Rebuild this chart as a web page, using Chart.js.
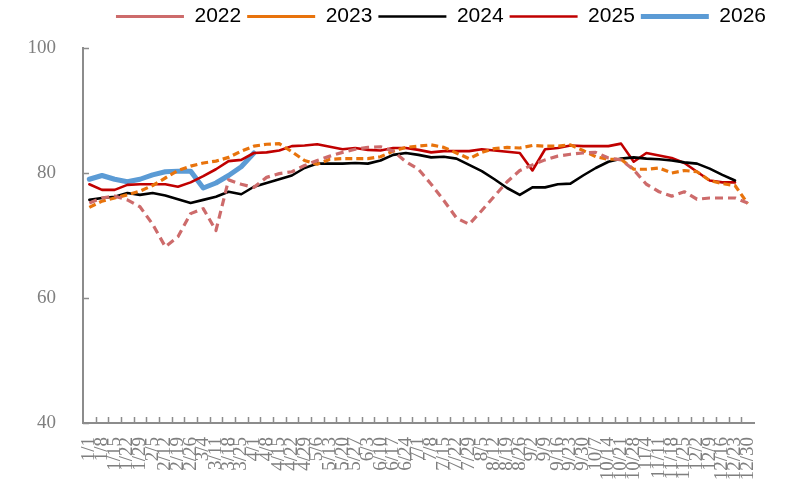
<!DOCTYPE html>
<html>
<head>
<meta charset="utf-8">
<script src="https://cdn.jsdelivr.net/npm/chart.js@4.4.1/dist/chart.umd.min.js"></script>
<style>
  html, body { margin: 0; padding: 0; background: #ffffff; }
  #wrap { width: 797px; height: 486px; }
</style>
</head>
<body>
<div id="wrap"><canvas id="c" width="797" height="486"></canvas></div>
<script>
// Weekly index by year, week labels running 1/1 .. 12/30
const weeks = ['1/1','1/8','1/15','1/22','1/29','2/5','2/12','2/19','2/26','3/4','3/11','3/18','3/25',
  '4/1','4/8','4/15','4/22','4/29','5/6','5/13','5/20','5/27','6/3','6/10','6/17','6/24',
  '7/1','7/8','7/15','7/22','7/29','8/5','8/12','8/19','8/26','9/2','9/9','9/16','9/23','9/30',
  '10/7','10/14','10/21','10/28','11/4','11/11','11/18','11/25','12/2','12/9','12/16','12/23','12/30'];

const y2022 = [75.2,76.0,76.3,75.7,74.6,71.8,68.2,69.8,73.5,74.3,70.8,78.9,78.2,77.7,79.3,79.9,80.2,81.2,82.0,82.7,
  83.3,83.8,84.1,84.2,83.5,81.8,80.6,78.2,75.6,72.8,71.8,74.0,76.3,78.6,80.4,81.3,82.1,82.7,83.0,83.2,
  83.3,82.4,82.1,80.5,78.2,77.0,76.3,77.0,75.8,76.0,76.0,76.0,75.2];
const y2023 = [74.5,75.5,76.0,76.5,77.1,78.0,79.2,80.4,81.1,81.6,81.9,82.5,83.5,84.3,84.6,84.7,83.4,82.0,81.4,82.2,
  82.3,82.3,82.3,82.6,83.5,84.1,84.3,84.5,84.1,83.2,82.3,83.3,83.9,84.1,84.0,84.4,84.3,84.3,84.5,83.6,
  82.6,82.2,82.2,80.6,80.6,80.8,80.0,80.4,80.2,78.8,78.3,78.0,75.1];
const y2024 = [75.7,76.0,76.2,76.8,76.5,76.8,76.4,75.8,75.2,75.7,76.2,77.0,76.6,77.8,78.4,79.0,79.6,80.8,81.5,81.5,
  81.5,81.6,81.5,82.0,82.9,83.2,82.9,82.5,82.6,82.3,81.3,80.3,79.0,77.6,76.5,77.7,77.7,78.2,78.3,79.6,
  80.8,81.8,82.3,82.5,82.3,82.2,82.0,81.7,81.5,80.7,79.7,78.8];
const y2025 = [78.2,77.3,77.3,78.1,78.2,78.2,78.2,77.8,78.5,79.5,80.6,81.9,82.1,83.2,83.3,83.6,84.3,84.4,84.6,84.2,
  83.8,84.0,83.7,83.6,84.0,84.0,83.7,83.3,83.5,83.5,83.5,83.8,83.6,83.4,83.2,80.4,83.8,84.0,84.4,84.3,
  84.3,84.3,84.7,81.8,83.2,82.8,82.4,81.6,80.2,78.8,78.5,78.5];
const y2026 = [79.0,79.6,79.0,78.6,79.0,79.7,80.2,80.3,80.3,77.6,78.4,79.6,81.0,83.2];

const yTicks = [40, 60, 80, 100];

const AXIS_GREY = '#8c8c8c';
const LABEL_GREY = '#7f7f7f';

// Short tick marks pointing into the plot area
const innerTicks = {
  id: 'innerTicks',
  afterDatasetsDraw(chart) {
    const { ctx, scales: { x, y } } = chart;
    ctx.save();
    ctx.strokeStyle = AXIS_GREY;
    ctx.lineWidth = 1.5;
    ctx.beginPath();
    y.ticks.forEach((t, i) => {
      const py = Math.round(y.getPixelForTick(i)) + 0.5;
      ctx.moveTo(x.left, py);
      ctx.lineTo(x.left + 6, py);
    });
    for (let i = 1; i < x.ticks.length; i++) {
      const px = Math.round((x.getPixelForTick(i - 1) + x.getPixelForTick(i)) / 2) + 0.5;
      ctx.moveTo(px, y.bottom);
      ctx.lineTo(px, y.bottom - 6);
    }
    ctx.stroke();
    ctx.restore();
  }
};

// Fixed legend band height and horizontal placement
const legendBand = {
  id: 'legendBand',
  beforeLayout(chart) {
    const lg = chart.legend;
    if (lg && !lg._bandPatched) {
      const fit = lg.fit;
      lg.fit = function () { fit.call(this); this.height = 48; };
      lg._bandPatched = true;
    }
  },
  afterLayout(chart) {
    chart.legend.left = 85;
    chart.legend.right = 797;
  }
};

const line = (label, data, color, width, dash) => ({
  label, data,
  borderColor: color,
  backgroundColor: color,
  borderWidth: width,
  borderDash: dash,
  borderCapStyle: dash.length ? 'butt' : 'round',
  borderJoinStyle: 'round',
  pointRadius: 0,
  pointHoverRadius: 0,
  tension: 0,
  fill: false
});

new Chart(document.getElementById('c'), {
  type: 'line',
  data: {
    labels: weeks,
    datasets: [
      line('2022', y2022, '#cd6b6b', 3.2, [8, 5]),
      line('2023', y2023, '#e8730c', 3.2, [7, 4]),
      line('2024', y2024, '#000000', 2.6, []),
      line('2025', y2025, '#c00000', 2.6, []),
      line('2026', y2026, '#5b9bd5', 5, [])
    ]
  },
  options: {
    responsive: false,
    animation: false,
    devicePixelRatio: 1,
    layout: { padding: { left: 0, right: 43, top: 0, bottom: 0 } },
    plugins: {
      tooltip: { enabled: false },
      legend: {
        position: 'top',
        align: 'center',
        labels: {
          usePointStyle: true,
          pointStyle: 'line',
          pointStyleWidth: 68,
          padding: 6,
          color: '#000000',
          font: { family: "'Liberation Sans', Arial, sans-serif", size: 21 }
        }
      }
    },
    scales: {
      x: {
        type: 'category',
        offset: true,
        grid: { display: false, offset: true },
        border: { display: true, color: AXIS_GREY, width: 2 },
        afterFit(scale) { scale.height = 63; },
        ticks: {
          autoSkip: false,
          minRotation: 90,
          maxRotation: 90,
          padding: 6,
          color: LABEL_GREY,
          font: { family: "'Liberation Serif', 'Times New Roman', serif", size: 19 }
        }
      },
      y: {
        min: 40,
        max: 100,
        grid: { display: false },
        border: { display: true, color: AXIS_GREY, width: 2 },
        afterFit(scale) { scale.width = 83; },
        afterBuildTicks(scale) { scale.ticks = yTicks.map(v => ({ value: v })); },
        ticks: {
          padding: 19,
          color: LABEL_GREY,
          font: { family: "'Liberation Serif', 'Times New Roman', serif", size: 19 }
        }
      }
    }
  },
  plugins: [innerTicks, legendBand]
});
</script>
</body>
</html>
